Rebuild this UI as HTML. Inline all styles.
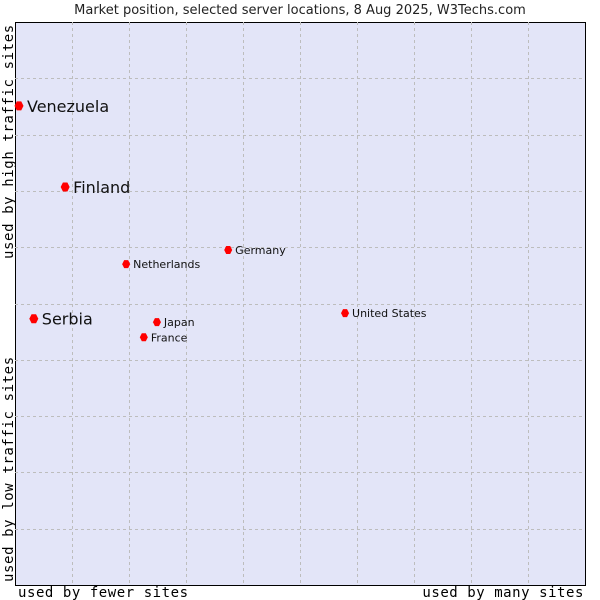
<!DOCTYPE html>
<html><head><meta charset="utf-8"><style>
body{margin:0;background:#fff;}
svg{display:block;}
</style></head><body>
<svg id="chart" width="600" height="600" xmlns="http://www.w3.org/2000/svg">
<text x="300" y="14" text-anchor="middle" font-family="DejaVu Sans, sans-serif" font-size="13" fill="#222">Market position, selected server locations, 8 Aug 2025, W3Techs.com</text>
<rect x="15.5" y="22.5" width="570" height="563" fill="#e3e5f8" stroke="#000" stroke-width="1"/>
<g id="grid"></g>
<g id="marks"></g>
<text x="18" y="597" letter-spacing="0.55" font-family="DejaVu Sans Mono, Liberation Mono, monospace" font-size="14" fill="#000">used by fewer sites</text>
<text x="584" y="597" letter-spacing="0.55" text-anchor="end" font-family="DejaVu Sans Mono, Liberation Mono, monospace" font-size="14" fill="#000">used by many sites</text>
<text transform="translate(13,259) rotate(-90)" letter-spacing="0.6" font-family="DejaVu Sans Mono, Liberation Mono, monospace" font-size="14" fill="#000">used by high traffic sites</text>
<text transform="translate(13,582) rotate(-90)" letter-spacing="0.6" font-family="DejaVu Sans Mono, Liberation Mono, monospace" font-size="14" fill="#000">used by low traffic sites</text>
</svg>
<script>
const countries = ["Venezuela","Finland","Netherlands","Germany","United States","Serbia","Japan","France"];
const xValues = [0.7, 8.8, 19.5, 37.4, 57.9, 3.3, 24.9, 22.6];
const yValues = [85.1, 70.7, 57.0, 59.5, 48.3, 47.3, 46.7, 44.0];
const highlighted = [true, true, false, false, false, true, false, false];

const L=15, T=22, W=570, H=563;
function xs(v){return L + v/100*W;}
function ys(v){return T + H - v/100*H;}
const NS="http://www.w3.org/2000/svg";
const grid=document.getElementById('grid');
for(let i=1;i<10;i++){
  const ln=document.createElementNS(NS,'line');
  const x=Math.round(xs(i*10))+0.5;
  ln.setAttribute('x1',x);ln.setAttribute('x2',x);ln.setAttribute('y1',T);ln.setAttribute('y2',T+H);
  ln.setAttribute('stroke','#bdbdbd');ln.setAttribute('stroke-dasharray','3,3');
  
  
  grid.appendChild(ln);
  const h=document.createElementNS(NS,'line');
  const y=Math.round(ys(i*10))+0.5;
  h.setAttribute('x1',L);h.setAttribute('x2',L+W);h.setAttribute('y1',y);h.setAttribute('y2',y);
  h.setAttribute('stroke','#bdbdbd');h.setAttribute('stroke-dasharray','3,3');
  
  
  grid.appendChild(h);
}
const marks=document.getElementById('marks');
countries.forEach((c,i)=>{
  const x=xs(xValues[i]), y=ys(yValues[i]);
  const big=highlighted[i];
  const r=big?4.5:4;
  const p=document.createElementNS(NS,'polygon');
  p.setAttribute('points',`${x-r},${y} ${x-r/2},${y-r} ${x+r/2},${y-r} ${x+r},${y} ${x+r/2},${y+r} ${x-r/2},${y+r}`);
  p.setAttribute('fill','#ff0000');
  
  
  marks.appendChild(p);
  const t=document.createElementNS(NS,'text');
  t.setAttribute('x',x+(big?8:7));
  t.setAttribute('y',y+(big?6:4));
  t.setAttribute('font-family','DejaVu Sans, sans-serif');
  t.setAttribute('font-size',big?16:11);
  t.setAttribute('fill','#111');
  t.textContent=c;
  
  
  marks.appendChild(t);
});
</script>
</body></html>
